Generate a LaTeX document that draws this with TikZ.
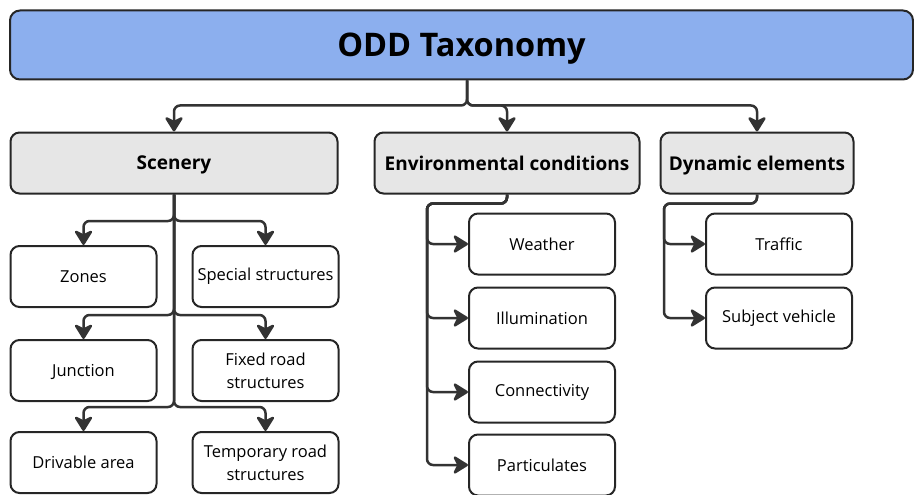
\documentclass[tikz,border=0pt]{standalone}
\usepackage{fontspec}
\setmainfont{Open Sans}
\usetikzlibrary{positioning, arrows.meta}
\definecolor{oddblue}{HTML}{8CAFEE}
\definecolor{catgray}{HTML}{E6E6E6}
\definecolor{linegray}{HTML}{333333}
\tikzset{
title/.style={draw=black!85, fill=oddblue, line width=2pt, rounded corners=10pt, minimum width=903pt, minimum height=69pt, text depth=0pt, font=\bfseries\fontsize{32.5}{38}\selectfont},
category/.style={draw=black!85, fill=catgray, line width=2pt, rounded corners=9pt, minimum height=61pt, text depth=0pt, font=\bfseries\fontsize{19}{23}\selectfont},
leaf/.style={draw=black!85, line width=2pt, rounded corners=9pt, minimum width=146pt, minimum height=61pt, align=center, inner sep=2pt, font=\fontsize{16.5}{23}\selectfont},
link/.style={-{Stealth[length=17pt 0, width=21pt 0, inset=5pt 0, round]}, draw=linegray, line width=2.5pt, rounded corners=6pt}, % filled heads
}
\begin{document}
\begin{tikzpicture}[x=1pt, y=-1pt]
  \useasboundingbox (0,0) rectangle (914,495);

  \node[title] (odd) at (461.5,45) {ODD Taxonomy};

  \node[category, minimum width=327pt] (scenery) at (174,163) {Scenery};
  \node[category, minimum width=265pt, right=35pt of scenery] (env) {Environmental conditions};
  \node[category, minimum width=193pt, right=19pt of env] (dyn) {Dynamic elements};

  % scenery
  \node[leaf] (zones) at (83.5,276.5) {Zones};
  \node[leaf, below=31pt of zones, text depth=0pt] (junction) {Junction};
  \node[leaf, below=29pt of junction] (drivable) {Drivable area};
  \node[leaf, right=34pt of zones] (special) {Special structures};
  \node[leaf, right=34pt of junction] (fixed) {Fixed road\\structures};
  \node[leaf, right=34pt of drivable] (temporary) {Temporary road\\structures};

  % environmental conditions
  \node[leaf] (weather) at (542,244) {Weather};
  \node[leaf, below=11pt of weather] (illumination) {Illumination};
  \node[leaf, below=11pt of illumination] (connectivity) {Connectivity};
  \node[leaf, below=10pt of connectivity] (particulates) {Particulates};

  % dynamic elements
  \node[leaf] (traffic) at (779,244) {Traffic};
  \node[leaf, below=11pt of traffic] (vehicle) {Subject vehicle};

  \coordinate (split) at ([xshift=5.5pt, yshift=-25pt]odd.south);
  \draw[link] ([xshift=5.5pt]odd.south) -- (split) -| (scenery.north);
  \draw[link] ([xshift=5.5pt]odd.south) -- (split) -| (env.north);
  \draw[link] ([xshift=5.5pt]odd.south) -- (split) -| (dyn.north);

  \foreach \n in {zones, junction, drivable, special, fixed, temporary}
    \draw[link] (scenery.south) |- ([yshift=24pt]\n.north) -- (\n.north);

  \foreach \n in {weather, illumination, connectivity, particulates}
    \draw[link] (env.south) -- ++(0,9) -| ([xshift=-41pt]\n.west) -- (\n.west);

  \foreach \n in {traffic, vehicle}
    \draw[link] (dyn.south) -- ++(0,9) -| ([xshift=-41pt]\n.west) -- (\n.west);
\end{tikzpicture}
\end{document}
